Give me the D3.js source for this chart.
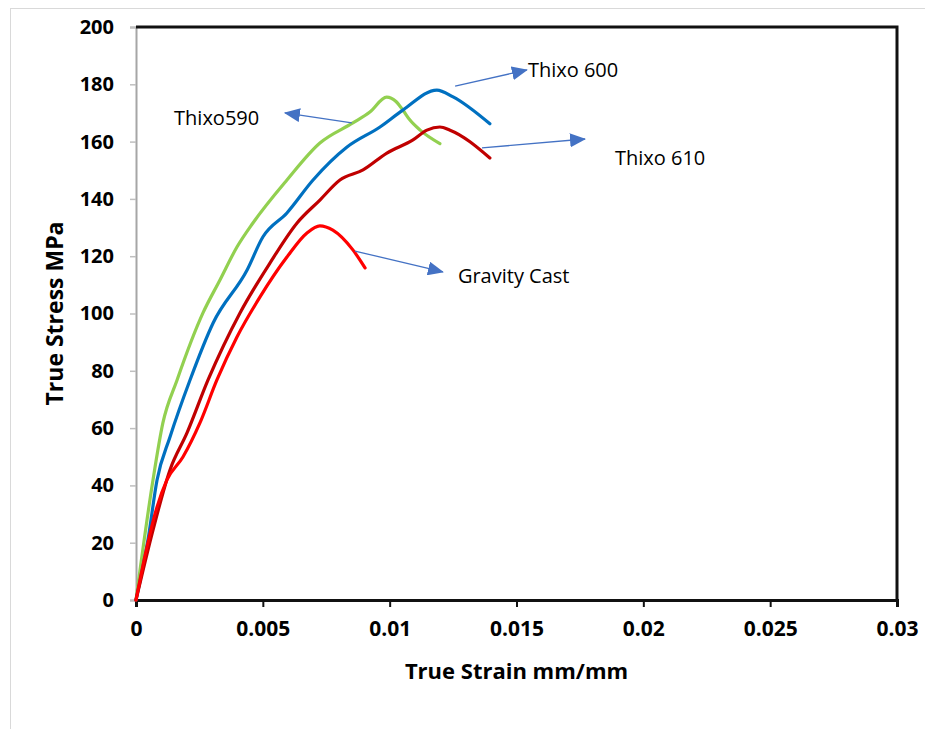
<!DOCTYPE html>
<html>
<head>
<meta charset="utf-8">
<script src="https://cdn.jsdelivr.net/npm/d3@7"></script>
<style>
  body { margin: 0; background: #fff; }
  text { font-family: "Open Sans", "Liberation Sans", sans-serif; }
</style>
</head>
<body>
<svg id="chart" width="925" height="729"></svg>
<script>
// values: [true strain, true stress MPa]
const thixo590 = [[0,0],[0.00067,41.9],[0.00106,61.8],[0.00162,76.8],[0.00264,100.2],[0.00331,111.7],
  [0.00398,123.2],[0.00461,131.6],[0.00595,146.6],[0.00725,159.5],[0.00855,166.5],[0.00922,170.3],
  [0.00988,175.5],[0.01025,174],[0.01052,171],[0.0108,167.5],[0.0112,164],[0.01198,159.3]]
const thixo600 = [[0,0],[0.00047,20.9],[0.00083,41.9],[0.00134,56.9],[0.00213,76.8],[0.00304,96.7],
  [0.00438,115.2],[0.005,126.7],[0.00595,135.1],[0.00698,146.6],[0.00832,158.1],[0.00962,165.1],
  [0.01052,171],[0.01186,178],[0.0125,175.6],[0.01395,166.2]]
const thixo610 = [[0,0],[0.00067,24.4],[0.00134,45.4],[0.00201,58.3],[0.00284,76.8],[0.0041,100.2],
  [0.00528,117.6],[0.00635,131.6],[0.00725,139.6],[0.00804,146.6],[0.00895,150.1],[0.00989,156],
  [0.01092,160.6],[0.01147,164],[0.01198,165.1],[0.01238,164],[0.01395,154.3]]
const gravityCast = [[0,0],[0.00043,18.5],[0.00083,32.5],[0.00122,41.9],[0.00185,49.9],[0.00252,61.8],
  [0.00319,76.8],[0.00398,91.8],[0.00489,105.8],[0.00595,119.7],[0.00674,128.1],[0.00725,130.6],
  [0.00776,129.1],[0.00855,122.2],[0.00903,115.9]]

const xTicks = [0, 0.005, 0.01, 0.015, 0.02, 0.025, 0.03]
const yTicks = [0, 20, 40, 60, 80, 100, 120, 140, 160, 180, 200]

// annotation labels and their arrows (from, to) in data units
const labels = ['Thixo590', 'Thixo 600', 'Thixo 610', 'Gravity Cast']
const labelAt = [[0.0015, 165.8], [0.01545, 182.5], [0.01888, 151.8], [0.01269, 110.6]]
const arrowFrom = [[0.00851, 166.5], [0.01258, 179.4], [0.01364, 157.8], [0.00863, 121.8]]
const arrowTo = [[0.00587, 170.0], [0.01541, 185.0], [0.0177, 160.9], [0.0121, 114.5]]

const series = [
  {data: thixo590, color: '#92d050'},
  {data: thixo600, color: '#0070c0'},
  {data: thixo610, color: '#c00000'},
  {data: gravityCast, color: '#ff0000'}
]

const svg = d3.select('#chart')
const x = d3.scaleLinear().domain([0, 0.03]).range([136, 897])
const y = d3.scaleLinear().domain([0, 200]).range([600, 27])

// outer chart border
svg.append('rect')
  .attr('x', 10.5).attr('y', 8.5)
  .attr('width', 940).attr('height', 760)
  .attr('fill', 'none')
  .attr('stroke', '#d9d9d9')
  .attr('stroke-width', 1)

// y axis (grey)
const yAxis = svg.append('g')
  .attr('transform', `translate(${x(0)},0)`)
  .call(d3.axisLeft(y).tickValues(yTicks).tickSize(6).tickPadding(16).tickFormat(d3.format('d')))
yAxis.select('.domain').attr('stroke', '#a6a6a6').attr('stroke-width', 2)
yAxis.selectAll('.tick line').attr('stroke', '#bfbfbf').attr('stroke-width', 1.5)
yAxis.selectAll('.tick text')
  .attr('fill', '#000')
  .style('font-size', '20px')
  .style('font-weight', 'bold')

// frame top/right
svg.append('path')
  .attr('d', `M${x(0)},${y(200)}H${x(0.03)}V${y(0)}`)
  .attr('fill', 'none')
  .attr('stroke', '#111')
  .attr('stroke-width', 3)

// x axis (black)
const xAxis = svg.append('g')
  .attr('transform', `translate(0,${y(0)})`)
  .call(d3.axisBottom(x).tickValues(xTicks).tickSize(7).tickPadding(14).tickFormat(d => d === 0 ? '0' : String(d)))
xAxis.select('.domain').attr('stroke', '#111').attr('stroke-width', 3)
xAxis.selectAll('.tick line').attr('stroke', '#111').attr('stroke-width', 2)
xAxis.selectAll('.tick text')
  .attr('fill', '#000')
  .style('font-size', '21px')
  .style('font-weight', 'bold')

// axis titles
svg.append('text')
  .attr('x', (x(0) + x(0.03)) / 2)
  .attr('y', 679)
  .attr('text-anchor', 'middle')
  .style('font-size', '22px')
  .style('font-weight', 'bold')
  .text('True Strain mm/mm')

svg.append('text')
  .attr('transform', `translate(63,${(y(0) + y(200)) / 2}) rotate(-90)`)
  .attr('text-anchor', 'middle')
  .style('font-size', '23px')
  .style('font-weight', 'bold')
  .text('True Stress MPa')

// curves
const line = d3.line()
  .x(d => x(d[0]))
  .y(d => y(d[1]))
  .curve(d3.curveMonotoneX)

svg.append('g')
  .selectAll('path')
  .data(series)
  .enter()
  .append('path')
  .attr('fill', 'none')
  .attr('stroke', d => d.color)
  .attr('stroke-width', 3.2)
  .attr('stroke-linecap', 'round')
  .attr('stroke-linejoin', 'round')
  .attr('d', d => line(d.data))

// arrows
svg.append('defs').append('marker')
  .attr('id', 'head')
  .attr('markerUnits', 'userSpaceOnUse')
  .attr('viewBox', '0 0 16 14')
  .attr('refX', 15).attr('refY', 7)
  .attr('markerWidth', 16).attr('markerHeight', 14)
  .attr('orient', 'auto')
  .append('path')
  .attr('d', 'M0,0L16,7L0,14Z')
  .attr('fill', '#4472c4')

svg.append('g')
  .selectAll('line')
  .data(labels)
  .enter()
  .append('line')
  .attr('x1', (d, i) => x(arrowFrom[i][0]))
  .attr('y1', (d, i) => y(arrowFrom[i][1]))
  .attr('x2', (d, i) => x(arrowTo[i][0]))
  .attr('y2', (d, i) => y(arrowTo[i][1]))
  .attr('stroke', '#4472c4')
  .attr('stroke-width', 1.3)
  .attr('marker-end', 'url(#head)')

svg.append('g')
  .selectAll('text')
  .data(labels)
  .enter()
  .append('text')
  .attr('x', (d, i) => x(labelAt[i][0]))
  .attr('y', (d, i) => y(labelAt[i][1]))
  .style('font-size', '20px')
  .attr('fill', '#000')
  .text(d => d)
</script>
</body>
</html>
